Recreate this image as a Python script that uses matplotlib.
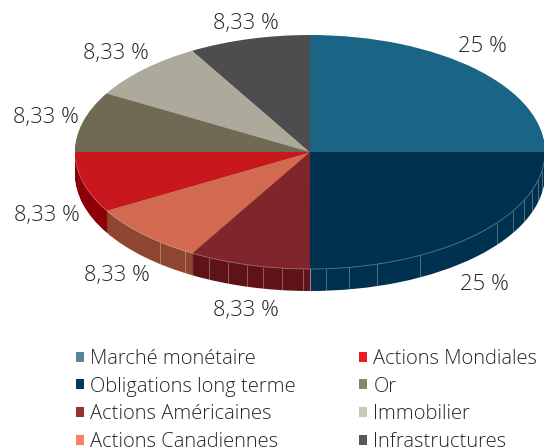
import numpy as np
import matplotlib
matplotlib.use("Agg")
import matplotlib.pyplot as plt
from matplotlib.patches import Patch

categories = ["Marché monétaire", "Obligations long terme", "Actions Américaines", "Actions Canadiennes",
              "Actions Mondiales", "Or", "Immobilier", "Infrastructures"]
values = [25, 25, 8.33, 8.33, 8.33, 8.33, 8.33, 8.33]
labels = ["25 %", "25 %", "8,33 %", "8,33 %", "8,33 %", "8,33 %", "8,33 %", "8,33 %"]
top_colors = ["#1a6485", "#00324f", "#80252c", "#d16a50", "#c9171e", "#706a54", "#adaa9c", "#4d4d50"]
side_colors = ["#0f4a66", "#00324f", "#5e1318", "#8f4631", "#8c0007", "#565240", "#8a8778", "#3a3a3d"]
legend_colors = ["#5a8299", "#003a5a", "#9a2f36", "#f58461", "#ed1c24", "#8a8568", "#c9c6ba", "#58585a"]
seam_px = [160, 185, 209, 228, 247, 263, 282, 303, 326, 349, 377, 420, 497, 513, 524, 532, 538, 542]

W, H = 544, 448
CX, CY, RX, RY, DEPTH = 310, 152, 235, 117, 22
FONT = "Open Sans"
TXT = "#262626"

fig = plt.figure(figsize=(W / 100, H / 100), dpi=100)
ax = fig.add_axes([0, 0, 1, 1])

for k in range(DEPTH, 0, -1):
    ax.pie(values, colors=side_colors, startangle=90, counterclock=False,
           center=(0, -k / RY), wedgeprops=dict(linewidth=0))
ax.pie(values, colors=top_colors, startangle=90, counterclock=False,
       center=(0, 0), wedgeprops=dict(linewidth=0))

ax.set_aspect("auto")
ax.set_xlim(-CX / RX, (W - CX) / RX)
ax.set_ylim((CY - H) / RY, CY / RY)
ax.axis("off")

# side seams and rim
for px in seam_px:
    x = (px - CX) / RX
    y = -np.sqrt(1 - x ** 2)
    ax.plot([x, x], [y, y - DEPTH / RY], color="white", alpha=0.3, lw=0.7, solid_capstyle="butt")
t = np.linspace(np.pi * 1.02, np.pi * 1.98, 300)
ax.plot(np.cos(t), np.sin(t), color="white", alpha=0.35, lw=0.6)
ax.plot([0, 0], [-1, -1 - DEPTH / RY], color="#d8b0b0", lw=0.7, alpha=0.7)

label_pos = [(482, 47), (484, 284), (246, 310), (117, 275), (47, 215), (46, 118), (116, 54), (246, 24)]
for (px, py), s in zip(label_pos, labels):
    ax.text((px - CX) / RX, (CY - py) / RY, s, ha="center", va="center",
            fontsize=15.8, family=FONT, color=TXT, fontweight="light")

handles = [Patch(facecolor=c, edgecolor="none") for c in legend_colors]
leg = fig.legend(handles, categories, ncol=2, loc="upper left",
                 bbox_to_anchor=(76 / W, 1 - 349 / H), bbox_transform=fig.transFigure,
                 frameon=False, handlelength=0.38, handleheight=0.38, handletextpad=0.34,
                 labelspacing=0.38, columnspacing=3.12, borderpad=0, borderaxespad=0,
                 prop=dict(family=FONT, size=14.5, weight="light"), labelcolor=TXT)

fig.savefig("out.png", dpi=100)
